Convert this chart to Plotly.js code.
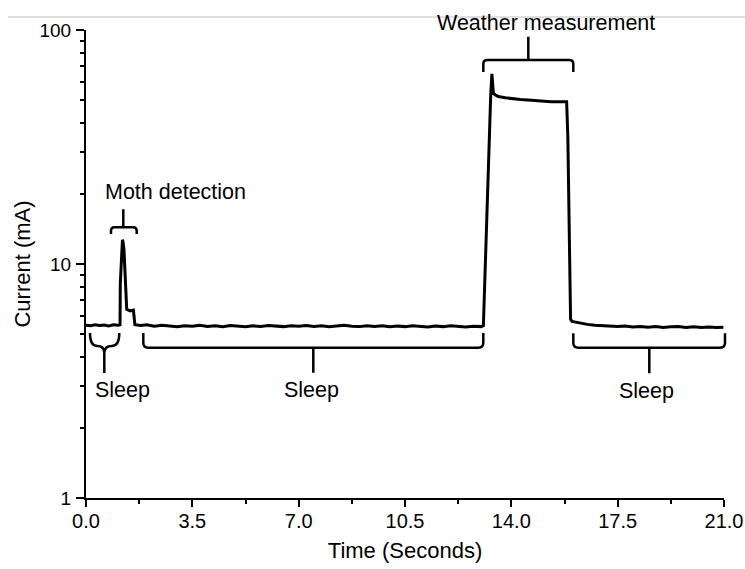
<!DOCTYPE html>
<html>
<head>
<meta charset="utf-8">
<script src="https://cdn.plot.ly/plotly-3.0.1.min.js"></script>
<style>html,body{margin:0;padding:0;background:#fff;}#chart{width:745px;height:569px;}</style>
</head>
<body>
<div id="chart"></div>
<script>
// ---- data ----
const timeSec = [
  0, 0.15, 0.3, 0.45, 0.6, 0.75, 0.9, 1.05, 1.12,
  1.13, 1.20, 1.22, 1.25, 1.34, 1.45, 1.56, 1.61,
  1.8, 2.0, 2.25, 2.5, 2.75, 3.0, 3.25, 3.5, 3.75, 4.0, 4.25, 4.5, 4.75, 5.0, 5.25, 5.5, 5.75,
  6.0, 6.25, 6.5, 6.75, 7.0, 7.25, 7.5, 7.75, 8.0, 8.25, 8.5, 8.75, 9.0, 9.25, 9.5, 9.75,
  10.0, 10.25, 10.5, 10.75, 11.0, 11.25, 11.5, 11.75, 12.0, 12.25, 12.5, 12.75, 13.0, 13.08,
  13.18, 13.2, 13.32, 13.36, 13.41, 13.5, 13.57, 13.8, 14.05, 14.3, 14.55, 14.8, 15.05, 15.3, 15.55, 15.82,
  15.86, 15.9, 15.95, 16.0, 16.2, 16.5, 16.75, 17.0, 17.25, 17.5, 17.75, 18.0, 18.25, 18.5, 18.75,
  19.0, 19.25, 19.5, 19.75, 20.0, 20.25, 20.5, 20.75, 20.98
];
const currentMA = [
  5.48, 5.45, 5.5, 5.46, 5.49, 5.44, 5.5, 5.47, 5.5,
  8.3, 12.7, 12.4, 11.5, 6.4, 6.3, 6.35, 5.5,
  5.46, 5.5, 5.42, 5.47, 5.44, 5.4, 5.45, 5.42, 5.47, 5.41, 5.44, 5.4, 5.46, 5.43, 5.39, 5.44, 5.41,
  5.46, 5.42, 5.4, 5.45, 5.42, 5.46, 5.41, 5.44, 5.39, 5.43, 5.47, 5.42, 5.4, 5.45, 5.41, 5.44,
  5.39, 5.43, 5.4, 5.45, 5.42, 5.38, 5.43, 5.4, 5.44, 5.41, 5.38, 5.42, 5.4, 5.45,
  15.4, 15.8, 52, 65, 53.6, 52.5, 52, 51.3, 50.8, 50.5, 50.2, 49.8, 49.5, 49.3, 49.4, 49.4,
  35, 14, 5.8, 5.68, 5.6, 5.52, 5.47, 5.44, 5.42, 5.4, 5.43, 5.38, 5.41, 5.37, 5.4,
  5.36, 5.39, 5.41, 5.36, 5.39, 5.35, 5.38, 5.36, 5.37
];
const xTickVals = [0, 3.5, 7, 10.5, 14, 17.5, 21];
const xTickText = ["0.0", "3.5", "7.0", "10.5", "14.0", "17.5", "21.0"];
const yTickVals = [1, 10, 100];
const yTickText = ["1", "10", "100"];
const yMinorVals = [2, 3, 4, 5, 6, 7, 8, 9, 20, 30, 40, 50, 60, 70, 80, 90];
const phaseLabels = ["Moth detection", "Weather measurement", "Sleep", "Sleep", "Sleep"];

// ---- layout geometry (pixels) ----
const W = 745, H = 569;
const ML = 86, MR = 21, MT = 30, MB = 71;
const PL = ML, PR = W - MR, PT = MT, PB = H - MB;
function fx(x) { return (x - PL) / (PR - PL); }
function fy(y) { return (PB - y) / (PB - PT); }
function p(x, y) { return fx(x).toFixed(5) + ',' + fy(y).toFixed(5); }

function bracketDown(x0, x1, xm, yBar, yEnd, yStem, r) {
  return 'M' + p(x0, yEnd) + ' L' + p(x0, yBar + r) + ' Q' + p(x0, yBar) + ' ' + p(x0 + r, yBar) +
    ' L' + p(x1 - r, yBar) + ' Q' + p(x1, yBar) + ' ' + p(x1, yBar + r) + ' L' + p(x1, yEnd) +
    ' M' + p(xm, yBar) + ' L' + p(xm, yStem);
}
function bracketUp(x0, x1, xm, yBar, yEnd, yStem, r) {
  return 'M' + p(x0, yEnd) + ' L' + p(x0, yBar - r) + ' Q' + p(x0, yBar) + ' ' + p(x0 + r, yBar) +
    ' L' + p(x1 - r, yBar) + ' Q' + p(x1, yBar) + ' ' + p(x1, yBar - r) + ' L' + p(x1, yEnd) +
    ' M' + p(xm, yBar) + ' L' + p(xm, yStem);
}
function curlyUp(x0, x1, xm, yBar, yEnd, yStem) {
  return 'M' + p(x0, yEnd) + ' Q' + p(x0, yBar) + ' ' + p((x0 + xm) / 2, yBar) +
    ' Q' + p(xm, yBar) + ' ' + p(xm, yBar + 7) + ' L' + p(xm, yStem) +
    ' M' + p(x1, yEnd) + ' Q' + p(x1, yBar) + ' ' + p((x1 + xm) / 2, yBar) +
    ' Q' + p(xm, yBar) + ' ' + p(xm, yBar + 7);
}

const lineStyle = { color: '#000', width: 2.5 };
const shapes = [
  { type: 'line', xref: 'paper', yref: 'paper', x0: fx(8), x1: fx(745), y0: fy(17), y1: fy(17),
    line: { color: '#d4d4d4', width: 1.5 } },
  { type: 'path', xref: 'paper', yref: 'paper', path: bracketDown(111, 136.7, 123.3, 227.3, 234, 209.3, 3.5), line: lineStyle },
  { type: 'path', xref: 'paper', yref: 'paper', path: bracketDown(483.3, 573.3, 528.3, 60, 72, 36.7, 4), line: lineStyle },
  { type: 'path', xref: 'paper', yref: 'paper', path: curlyUp(90, 119.3, 104.3, 346, 333, 373), line: lineStyle },
  { type: 'path', xref: 'paper', yref: 'paper', path: bracketUp(143.3, 483.3, 313.3, 347.7, 333, 372.7, 5), line: lineStyle },
  { type: 'path', xref: 'paper', yref: 'paper', path: bracketUp(573.3, 725, 649.3, 347.7, 333.3, 373.3, 5), line: lineStyle }
];

const annFont = { family: 'Arial, "Liberation Sans", sans-serif', size: 21.5, color: '#000' };
const annPos = [[175.5, 192], [546, 23], [122, 390], [311.5, 390], [646, 390.5]];
const annotations = phaseLabels.map((t, i) => ({
  text: t, xref: 'paper', yref: 'paper', x: fx(annPos[i][0]), y: fy(annPos[i][1]),
  xanchor: 'center', yanchor: 'middle', showarrow: false, font: annFont
}));

const trace = {
  x: timeSec, y: currentMA, type: 'scatter', mode: 'lines',
  line: { color: '#000', width: 3 }, hoverinfo: 'skip'
};

const layout = {
  width: W, height: H,
  margin: { l: ML, r: MR, t: MT, b: MB, pad: 0 },
  paper_bgcolor: '#fff', plot_bgcolor: '#fff',
  showlegend: false,
  font: { family: 'Arial, "Liberation Sans", sans-serif', color: '#000' },
  xaxis: {
    range: [0, 21], showgrid: false, zeroline: false,
    tickmode: 'array', tickvals: xTickVals, ticktext: xTickText,
    ticks: 'outside', ticklen: 7, tickwidth: 2, tickcolor: '#000',
    showline: true, linecolor: '#000', linewidth: 2,
    tickfont: { size: 20, color: '#000' },
    ticklabelstandoff: -3,
    minor: { dtick: 1.75, tick0: 0, ticks: 'outside', ticklen: 4, tickwidth: 2, tickcolor: '#000', showgrid: false },
    title: { text: 'Time (Seconds)', font: { size: 22, color: '#000' }, standoff: 12 }
  },
  yaxis: {
    type: 'log', range: [0, 2], showgrid: false, zeroline: false,
    tickmode: 'array', tickvals: yTickVals, ticktext: yTickText,
    ticks: 'outside', ticklen: 8, tickwidth: 2, tickcolor: '#000',
    showline: true, linecolor: '#000', linewidth: 2,
    tickfont: { size: 19, color: '#000' },
    ticklabelstandoff: 1,
    minor: { tickmode: 'array', tickvals: yMinorVals, ticks: 'outside', ticklen: 4, tickwidth: 2, tickcolor: '#000', showgrid: false },
    title: { text: 'Current (mA)', font: { size: 22, color: '#000' }, standoff: 3 },
    automargin: true
  },
  shapes: shapes,
  annotations: annotations
};

Plotly.newPlot('chart', [trace], layout, { staticPlot: true, displayModeBar: false });
</script>
</body>
</html>
